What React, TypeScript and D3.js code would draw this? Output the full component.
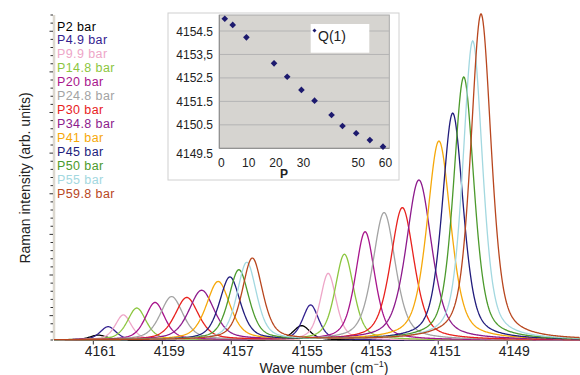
import React from "react";
import * as d3 from "d3";

// ---------- data ----------
const seriesLabels = [
  "P2 bar", "P4.9 bar", "P9.9 bar", "P14.8 bar", "P20 bar", "P24.8 bar", "P30 bar",
  "P34.8 bar", "P41 bar", "P45 bar", "P50 bar", "P55 bar", "P59.8 bar",
];
const seriesColors = [
  "#000000", "#33218f", "#eea6c8", "#8cc63f", "#a8158c", "#a3a3a3", "#e8211d",
  "#8d1a8c", "#f6a80a", "#211c7c", "#4c9a2c", "#a3d8e0", "#b8461e",
];
// small (high wavenumber) band: centre (cm-1) and height (arb. units)
const lowBandCenter = [4160.86, 4160.57, 4160.13, 4159.74, 4159.21, 4158.73, 4158.29, 4157.86, 4157.38, 4157.04, 4156.78, 4156.55, 4156.39];
const lowBandHeight = [1.5, 4.1, 7.7, 9.8, 11.5, 13.3, 13.0, 15.2, 17.9, 19.3, 21.5, 23.8, 25.1];
// main Q(1) band
const mainBandCenter = [4154.96, 4154.70, 4154.19, 4153.72, 4153.12, 4152.57, 4152.04, 4151.56, 4150.98, 4150.58, 4150.26, 4150.0, 4149.76];
const mainBandHeight = [4.4, 10.8, 20.5, 26.4, 33.3, 39.2, 40.7, 49.2, 61.2, 69.8, 80.9, 92.0, 100.3];
// full width at half maximum (cm-1)
const bandWidth = [0.58, 0.55, 0.55, 0.64, 0.67, 0.78, 0.81, 0.87, 0.81, 0.72, 0.70, 0.67, 0.70];

const xTicks = [4161, 4159, 4157, 4155, 4153, 4151, 4149];

// inset: Q(1) position vs pressure
const insetP = [2, 4.9, 9.9, 20, 24.8, 30, 34.8, 41, 45, 50, 55, 59.8];
const insetQ1 = [4155.02, 4154.76, 4154.23, 4153.12, 4152.55, 4151.99, 4151.53, 4150.92, 4150.45, 4150.14, 4149.85, 4149.57];
const insetYTicks = [4154.5, 4153.5, 4152.5, 4151.5, 4150.5, 4149.5];
const insetYLabels = ["4154.5", "4153,5", "4152.5", "4151.5", "4150.5", "4149.5"];
const insetXTicks = [0, 10, 20, 30, 50, 60];

const FONT = "'Liberation Sans', Arial, Helvetica, sans-serif";

function band(v: number, c: number, h: number, fwhm: number) {
  const g = fwhm / 2;
  const u = (v - c) / g;
  const eta = 0.5;
  return h * (eta / (1 + u * u) + (1 - eta) * Math.exp(-Math.LN2 * u * u));
}

export default function App() {
  const x = d3.scaleLinear().domain([4162.14, 4146.89]).range([54, 580]);
  const y = d3.scaleLinear().domain([0, 100]).range([340, 15]);
  const grid = d3.range(0, 763).map((i) => 4162.14 - i * 0.02);

  const line = d3
    .line<[number, number]>()
    .x((d) => x(d[0]))
    .y((d) => y(d[1]));

  const curves = seriesLabels.map((_, i) =>
    line(
      grid.map((v) => [
        v,
        band(v, lowBandCenter[i], lowBandHeight[i], bandWidth[i]) +
          band(v, mainBandCenter[i], mainBandHeight[i], bandWidth[i]),
      ])
    )
  );

  const yTickVals = d3.range(0, 100.01, 2.5);

  // inset scales
  const ix = d3.scaleLinear().domain([0, 62.1]).range([219.3, 389.3]);
  const iy = d3.scaleLinear().domain([4149.5, 4154.5]).range([148.3, 31]);
  const diamond = d3.symbol().type(d3.symbolSquare).size(22)();
  const diamondSmall = d3.symbol().type(d3.symbolSquare).size(8)();

  return (
    <svg
      width={580}
      height={375}
      style={{ position: "absolute", left: 0, top: 0, background: "#fff" }}
      fontFamily={FONT}
    >
      {/* y axis */}
      <line x1={54} x2={54} y1={y(100)} y2={y(0)} stroke="#dcd8cf" strokeWidth={2.5} />
      {yTickVals.map((t, i) => (
        <line
          key={"yt" + i}
          x1={i % 5 === 3 ? 49.5 : 50.5}
          x2={53}
          y1={y(t)}
          y2={y(t)}
          stroke="#333"
          strokeWidth={1}
        />
      ))}
      {/* x axis */}
      <line x1={54} x2={580} y1={340.5} y2={340.5} stroke="#555" strokeWidth={1} />
      {xTicks.map((t) => (
        <g key={"xt" + t}>
          <line x1={x(t)} x2={x(t)} y1={340.5} y2={344.5} stroke="#333" />
          <text x={x(t) + 7} y={356} fontSize={14} textAnchor="middle" fill="#222">
            {t}
          </text>
        </g>
      ))}
      <text x={324} y={373} fontSize={14} textAnchor="middle" fill="#222">
        Wave number (cm
        <tspan fontSize={9} dy={-6}>−1</tspan>
        <tspan dy={6}>)</tspan>
      </text>
      <text
        transform="translate(30,178) rotate(-90)"
        fontSize={14}
        textAnchor="middle"
        fill="#222"
      >
        Raman intensity (arb. units)
      </text>

      {/* spectra */}
      {curves.map((d, i) => (
        <path key={"c" + i} d={d || ""} fill="none" stroke={seriesColors[i]} strokeWidth={1.3} />
      ))}

      {/* legend */}
      {seriesLabels.map((s, i) => (
        <text key={"lg" + i} x={57} y={30.5 + i * 13.95} fontSize={12.5} letterSpacing={0.4} fill={seriesColors[i]}>
          {s}
        </text>
      ))}

      {/* inset */}
      <rect x={168} y={13} width={231} height={167} fill="#fff" stroke="#d0d0d0" />
      <rect x={219.3} y={15} width={170} height={133.3} fill="#d6d4d0" stroke="#a8a8a8" />
      {insetYTicks.map((t, i) => (
        <g key={"iy" + i}>
          {i < insetYTicks.length - 1 && (
            <line x1={219.3} x2={389.3} y1={iy(t)} y2={iy(t)} stroke="#b4b4b4" />
          )}
          <text
            x={213}
            y={iy(t) + (i === insetYTicks.length - 1 ? 10 : 4.5)}
            fontSize={12}
            textAnchor="end"
            fill="#222"
          >
            {insetYLabels[i]}
          </text>
        </g>
      ))}
      <line x1={219.3} x2={219.3} y1={15} y2={148.3} stroke="#8a8a8a" />
      <line x1={219.3} x2={389.3} y1={148.3} y2={148.3} stroke="#8a8a8a" />
      {insetXTicks.map((t) => (
        <text key={"ix" + t} x={ix(t) + 2} y={167} fontSize={12} textAnchor="middle" fill="#222">
          {t}
        </text>
      ))}
      <text x={284} y={178} fontSize={12} fontWeight="bold" textAnchor="middle" fill="#222">
        P
      </text>
      {insetP.map((p, i) => (
        <path
          key={"ip" + i}
          d={diamond || ""}
          transform={`translate(${ix(p)},${iy(insetQ1[i])}) rotate(45)`}
          fill="#1d1a6e"
        />
      ))}
      <rect x={310.7} y={24} width={58.6} height={28.7} fill="#fff" />
      <path d={diamondSmall || ""} transform="translate(314.5,30.5) rotate(45)" fill="#1d1a6e" />
      <text x={318} y={41} fontSize={14} fill="#222">
        Q(1)
      </text>
    </svg>
  );
}
